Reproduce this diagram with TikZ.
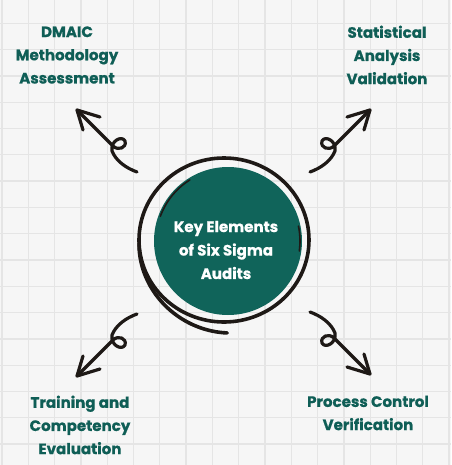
\documentclass[tikz,border=0pt]{standalone}
\usepackage{fontspec}
\setmainfont{Poppins}[BoldFeatures={FakeBold=0.7}]
\definecolor{bgpaper}{HTML}{F6F6F6}
\definecolor{gridcol}{HTML}{E5E5E5}
\definecolor{hubfill}{HTML}{10645A}
\definecolor{labelcol}{HTML}{0F5E56}
\definecolor{inkcol}{HTML}{1E1916}
\tikzset{
  gridline/.style={draw=gridcol, line width=1pt},
  sk/.style={draw=inkcol, line width=2.4pt, line cap=round, line join=round},
  lbl/.style={align=center, text=labelcol, inner sep=0pt, font=\bfseries\fontsize{11.3}{17.4}\selectfont},
  hubtxt/.style={align=center, text=white, inner sep=0pt, font=\bfseries\fontsize{11.3}{17.6}\selectfont}
}
\newcommand{\sketcharrow}{%
  \draw[sk] (137,172) .. controls (126,168) and (116,161) .. (112,151)
    .. controls (110,141) and (122,135) .. (125,141)
    .. controls (127,148) and (118,151) .. (113,146) -- (77,110);
  \draw[sk] (100,117) -- (77,110) -- (83,130);
}
\begin{document}
\begin{tikzpicture}[x=0.75pt, y=-0.75pt]
\useasboundingbox (0,0) rectangle (451,465);
\fill[bgpaper] (0,0) rectangle (451,465);
\foreach \i in {0,...,17} {
  \draw[gridline] ({2+26.3*\i},0) -- ({2+26.3*\i},465);
  \draw[gridline] (0,{-3+26.3*\i}) -- (451,{-3+26.3*\i});
}
% hub
\fill[hubfill] (228,241) circle[radius=74];
\draw[sk, line width=2.7pt] (224,240) ellipse[x radius=85, y radius=82];
\draw[sk, line width=2.7pt] plot[domain=178:88, samples=40, smooth]
  ({224+(85+7*(178-\x)/90)*cos(\x)}, {240+(82+11*(178-\x)/90)*sin(\x)});
\draw[inkcol, line width=1.2pt, line cap=round] plot[domain=200:238, samples=20, smooth]
  ({228+72*cos(\x)}, {241+72*sin(\x)});
\draw[inkcol, line width=1.2pt, line cap=round] plot[domain=-12:8, samples=10, smooth]
  ({228+72*cos(\x)}, {241+72*sin(\x)});
\node[hubtxt] (hub) at (226,250) {Key Elements\\of Six Sigma\\Audits};
% labels
\node[lbl] (dmaic) at (67,55) {DMAIC\\Methodology\\Assessment};
\node[lbl] (stat) at (387,55) {Statistical\\Analysis\\Validation};
\node[lbl] (train) at (80,425) {Training and\\Competency\\Evaluation};
\node[lbl] (proc) at (368,413) {Process Control\\Verification};
% arrows
\sketcharrow
\begin{scope}[shift={(447,0)}, xscale=-1]\sketcharrow\end{scope}
\begin{scope}[shift={(0,486)}, yscale=-1]\sketcharrow\end{scope}
\begin{scope}[shift={(447,484)}, xscale=-1, yscale=-1]\sketcharrow\end{scope}
\end{tikzpicture}
\end{document}
